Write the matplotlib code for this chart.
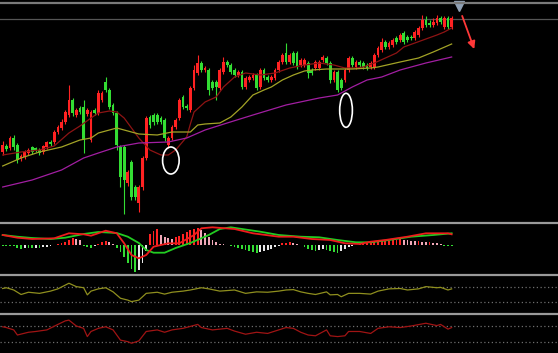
import matplotlib
matplotlib.use("Agg")
import matplotlib.pyplot as plt
from matplotlib.patches import Ellipse
from matplotlib.lines import Line2D
import numpy as np

W, H = 558, 353

# daily candles (arbitrary price units)
opens = [78, 84, 82, 92, 85, 72, 73, 77, 83, 82, 80, 78, 83, 88, 88, 98, 102, 108, 115, 130,
         115, 122, 123, 116, 90, 120, 117, 130, 148, 140, 125, 117, 83, 83, 47, 68, 43, 27, 43, 72,
         113, 115, 115, 112, 110, 85, 92, 103, 112, 133, 124, 120, 142, 157, 167, 160, 160, 148, 148, 142,
         158, 168, 165, 160, 155, 158, 143, 150, 152, 155, 143, 160, 153, 150, 152, 160, 168, 177, 168, 177,
         177, 165, 165, 167, 160, 162, 162, 170, 172, 167, 150, 158, 150, 150, 160, 172, 163, 168, 167, 165,
         163, 163, 175, 180, 188, 183, 185, 192, 190, 197, 193, 193, 192, 195, 202, 210, 207, 205, 207, 212,
         203, 212, 203]
highs = [89, 86, 94, 95, 87, 76, 80, 82, 84, 83, 82, 85, 89, 90, 100, 105, 111, 120, 145, 132,
         122, 124, 130, 122, 120, 122, 140, 139, 153, 142, 127, 119, 85, 85, 60, 70, 45, 45, 74, 114,
         115, 117, 117, 114, 112, 94, 105, 112, 132, 135, 126, 144, 165, 175, 169, 164, 162, 150, 150, 162,
         173, 170, 167, 162, 160, 160, 154, 155, 157, 157, 162, 162, 155, 155, 162, 170, 177, 187, 177, 179,
         179, 172, 172, 169, 162, 170, 170, 175, 174, 169, 160, 160, 152, 162, 174, 174, 170, 170, 169, 167,
         169, 177, 184, 192, 190, 189, 192, 194, 197, 199, 195, 195, 200, 204, 215, 214, 210, 212, 215, 214,
         214, 214, 214]
lows = [75, 79, 80, 80, 67, 69, 71, 75, 76, 78, 75, 76, 81, 84, 86, 96, 100, 106, 113, 114,
        113, 116, 77, 114, 88, 115, 115, 128, 138, 121, 115, 80, 43, 16, 44, 30, 30, 18, 40, 70,
        102, 105, 106, 106, 89, 82, 90, 101, 110, 121, 120, 118, 140, 155, 158, 158, 135, 140, 130, 140,
        156, 163, 156, 153, 153, 141, 141, 148, 150, 140, 141, 150, 148, 148, 150, 158, 166, 166, 166, 165,
        161, 163, 163, 152, 155, 160, 160, 168, 165, 147, 148, 138, 140, 148, 158, 163, 161, 163, 161, 160,
        161, 161, 173, 178, 181, 181, 183, 186, 188, 186, 188, 190, 190, 193, 200, 203, 203, 203, 205, 206,
        201, 201, 201]
closes = [85, 81, 92, 83, 70, 74, 78, 80, 78, 80, 77, 84, 88, 86, 98, 103, 108, 118, 130, 117,
          120, 118, 90, 120, 118, 117, 137, 137, 140, 123, 117, 85, 53, 50, 58, 33, 33, 43, 72, 112,
          105, 108, 108, 108, 92, 92, 103, 110, 130, 123, 122, 142, 160, 167, 160, 162, 140, 142, 143, 160,
          168, 165, 158, 155, 158, 143, 152, 153, 155, 142, 160, 152, 150, 153, 160, 168, 175, 168, 175, 167,
          163, 170, 170, 157, 157, 168, 168, 173, 167, 150, 158, 140, 142, 160, 172, 165, 168, 165, 163, 162,
          167, 175, 182, 188, 183, 187, 190, 188, 195, 188, 190, 192, 198, 202, 210, 205, 205, 208, 212, 208,
          212, 203, 212]

# moving averages (bar index, value)
ma_short_idx = [0, 5, 10, 14, 18, 21, 24, 26, 29, 31, 33, 35, 37, 40, 43, 45, 47, 50, 51, 52, 55, 58,
                60, 63, 66, 70, 74, 78, 82, 86, 90, 93, 96, 98, 101, 104, 107, 109, 112, 115, 118, 120, 122]
ma_short = [75, 78, 80, 84, 97, 104, 112, 117, 119, 118, 112, 102, 92, 80, 75, 75, 80, 93, 106, 118, 128, 133,
            143, 153, 157, 155, 157, 162, 165, 167, 165, 162, 162, 163, 167, 172, 177, 183, 187, 191, 195, 198, 202]
ma_mid_idx = [0, 5, 10, 16, 21, 24, 26, 31, 33, 37, 42, 46, 51, 53, 55, 59, 62, 65, 68, 71, 73, 76, 79, 82,
              84, 88, 91, 95, 100, 102, 108, 113, 117, 122]
ma_mid = [64, 72, 78, 83, 90, 92, 97, 102, 100, 96, 95, 98, 98, 105, 106, 107, 113, 123, 135, 140, 143, 150,
          155, 159, 160, 161, 161, 161, 162, 163, 168, 172, 178, 186]
ma_long_idx = [0, 8, 16, 22, 26, 31, 37, 45, 50, 55, 61, 68, 77, 86, 91, 95, 99, 103, 108, 115, 122]
ma_long = [43, 50, 60, 72, 77, 83, 87, 88, 92, 100, 107, 115, 125, 132, 135, 143, 150, 153, 160, 167, 173]

# MACD
dif_idx = [0, 4, 8, 14, 18, 22, 24, 28, 31, 33, 35, 37, 39, 41, 45, 48, 52, 54, 57, 63, 68, 75, 79, 84,
           89, 93, 97, 100, 104, 110, 115, 121, 122]
dif = [1.0, 0.73, 0.6, 0.67, 1.17, 1.07, 0.93, 1.43, 1.17, 0.17, -1.0, -1.33, -1.0, -0.17, 0.17, 0.17,
       1.0, 1.67, 1.77, 1.6, 1.17, 0.83, 0.83, 0.6, 0.5, 0.17, 0.1, 0.33, 0.5, 0.83, 1.17, 1.17, 1.07]
dea_idx = [0, 4, 8, 13, 17, 22, 26, 31, 34, 37, 39, 41, 44, 47, 51, 56, 59, 62, 65, 70, 75, 81, 86, 91,
           96, 100, 105, 111, 117, 122]
dea = [1.0, 0.83, 0.7, 0.6, 0.73, 1.1, 1.3, 1.2, 0.83, 0.2, -0.5, -0.77, -0.77, -0.3, 0.2, 1.0, 1.6, 1.77,
       1.6, 1.33, 1.0, 0.83, 0.77, 0.5, 0.27, 0.27, 0.5, 0.83, 1.0, 1.17]
macd_hist = [-0.05, -0.05, -0.05, -0.1, -0.3, -0.35, -0.3, -0.3, -0.3, -0.25, -0.25, -0.2, -0.15, -0.05,
             0.05, 0.15, 0.25, 0.35, 0.5, 0.7, 0.6, 0.5, -0.1, -0.2, -0.25, -0.1, 0.15, 0.3, 0.4, 0.35,
             0.1, -0.3, -0.7, -1.2, -1.8, -2.4, -2.7, -2.5, -1.8, -0.6, 1.1, 1.4, 1.6, 1.0, 0.8, 0.7,
             0.6, 0.8, 0.9, 1.1, 1.3, 1.5, 1.6, 1.7, 1.5, 1.2, 0.8, 0.5, 0.3, 0.15, 0.1, 0.05, -0.1,
             -0.2, -0.3, -0.4, -0.5, -0.6, -0.7, -0.75, -0.7, -0.6, -0.5, -0.4, -0.2, -0.1, 0.2, 0.25,
             0.3, 0.2, 0.15, 0.05, -0.2, -0.4, -0.5, -0.55, -0.45, -0.4, -0.5, -0.6, -0.7, -0.75, -0.6,
             -0.4, -0.2, -0.05, 0.05, 0.1, 0.15, 0.2, 0.25, 0.3, 0.35, 0.4, 0.45, 0.45, 0.5, 0.55, 0.6,
             0.55, 0.5, 0.45, 0.4, 0.4, 0.35, 0.3, 0.3, 0.25, 0.2, 0.15, -0.05, -0.05, -0.05]

# oscillators
osc1_idx = [0, 1, 3, 5, 7, 10, 13, 15, 17, 18, 20, 22, 23, 24, 26, 28, 30, 32, 34, 35, 37, 39, 42, 44, 46,
            49, 51, 54, 56, 59, 63, 66, 69, 72, 75, 77, 79, 81, 83, 85, 88, 89, 91, 92, 94, 97, 100, 102,
            105, 108, 110, 113, 115, 118, 119, 121, 122]
osc1 = [66, 68, 62, 50, 56, 53, 59, 65, 75, 80, 71, 68, 49, 59, 65, 68, 57, 40, 35, 31, 35, 53, 56, 51, 56,
        59, 62, 68, 65, 59, 62, 53, 57, 56, 59, 62, 63, 57, 53, 50, 57, 49, 50, 44, 53, 53, 51, 59, 65, 66,
        62, 65, 71, 68, 69, 62, 65]
osc2_idx = [0, 1, 3, 4, 7, 9, 12, 15, 17, 18, 20, 22, 23, 24, 26, 28, 30, 32, 34, 35, 37, 39, 42, 44, 46,
            49, 53, 54, 57, 61, 63, 66, 69, 72, 75, 77, 79, 81, 83, 85, 88, 89, 91, 93, 94, 97, 100, 102,
            105, 108, 111, 115, 118, 119, 121, 122]
osc2 = [68, 66, 60, 47, 54, 56, 60, 74, 83, 85, 70, 64, 43, 56, 64, 68, 60, 34, 30, 26, 32, 56, 60, 54, 60,
        64, 74, 66, 60, 64, 57, 49, 54, 51, 60, 66, 64, 54, 47, 45, 60, 45, 43, 45, 56, 56, 51, 64, 68, 66,
        70, 77, 71, 74, 62, 66]

UP = '#ff2222'
DOWN = '#33dd33'


def fy(px):
    return 1 - px / H


fig = plt.figure(figsize=(W / 100, H / 100), dpi=100, facecolor='black')


def panel(top, bottom, ylim):
    ax = fig.add_axes([0, fy(bottom), 1, (bottom - top) / H])
    ax.set_xlim(-0.73, 150.9)
    ax.set_ylim(*ylim)
    ax.axis('off')
    return ax


# --- price panel
ax = panel(0, 221, (9, 230))
n = len(closes)
idx = np.arange(n)
o = np.array(opens)
c = np.array(closes)
cols = [UP if c[i] >= o[i] else DOWN for i in range(n)]
ax.vlines(idx, lows, highs, colors=cols, lw=0.8, zorder=3)
ax.bar(idx, np.maximum(np.abs(c - o), 1.2), bottom=np.minimum(o, c), width=0.75,
       color=cols, lw=0, zorder=4)
ax.plot(ma_short_idx, ma_short, color='#8e1414', lw=0.9, zorder=5)
ax.plot(ma_mid_idx, ma_mid, color='#a3a326', lw=0.9, zorder=5)
ax.plot(ma_long_idx, ma_long, color='#a21ea2', lw=0.9, zorder=5)
ax.axhline(211, color='#555555', lw=0.9, zorder=1)

ax.add_patch(Ellipse((45.7, 69.5), 4.5, 27, fill=False, ec='white', lw=1.2, zorder=6))
ax.add_patch(Ellipse((93.3, 119.7), 3.45, 34, fill=False, ec='white', lw=1.2, zorder=6))
ax.annotate('', xy=(128.4, 178.3), xytext=(124.6, 216.7),
            arrowprops=dict(arrowstyle='-|>', color='#ff3838', lw=1.3, mutation_scale=11))
ax.plot([124], [224], marker='v', color='#8fa0b4', ms=6.5, zorder=7, clip_on=False)

# --- MACD panel
ax2 = panel(224, 274, (-2.9, 2.1))
hcols = []
for i, v in enumerate(macd_hist):
    prev = macd_hist[i - 1] if i else v
    if v >= 0:
        hcols.append(UP if v >= prev else '#f0a8b8')
    else:
        hcols.append(DOWN if v <= prev else '#e8e8e8')
ax2.bar(np.arange(len(macd_hist)), macd_hist, width=0.5, color=hcols, lw=0)
ax2.plot(dea_idx, dea, color='#22cc22', lw=1.3)
ax2.plot(dif_idx, dif, color='#ee1c1c', lw=1.3)

# --- oscillator panels
ax3 = panel(276, 312, (3.3, 99.3))
for lv in (70, 30):
    ax3.axhline(lv, color='#6e6e6e', lw=0.9, ls=(0, (1, 2)))
ax3.plot(osc1_idx, osc1, color='#8f8f1e', lw=0.9)

ax4 = panel(315, 353, (1.15, 98))
for lv in (70, 30):
    ax4.axhline(lv, color='#6e6e6e', lw=0.9, ls=(0, (1, 2)))
ax4.plot(osc2_idx, osc2, color='#a01414', lw=0.9)

# separators
for ypx, col, lw in [(3, '#7a7a7a', 1.6), (223.3, '#9a9a9a', 1.6),
                     (275, '#9a9a9a', 1.6), (313.7, '#9a9a9a', 1.6)]:
    fig.add_artist(Line2D([0, 1], [fy(ypx), fy(ypx)], color=col, lw=lw,
                          transform=fig.transFigure))

fig.savefig('out.png', dpi=100, facecolor='black')
